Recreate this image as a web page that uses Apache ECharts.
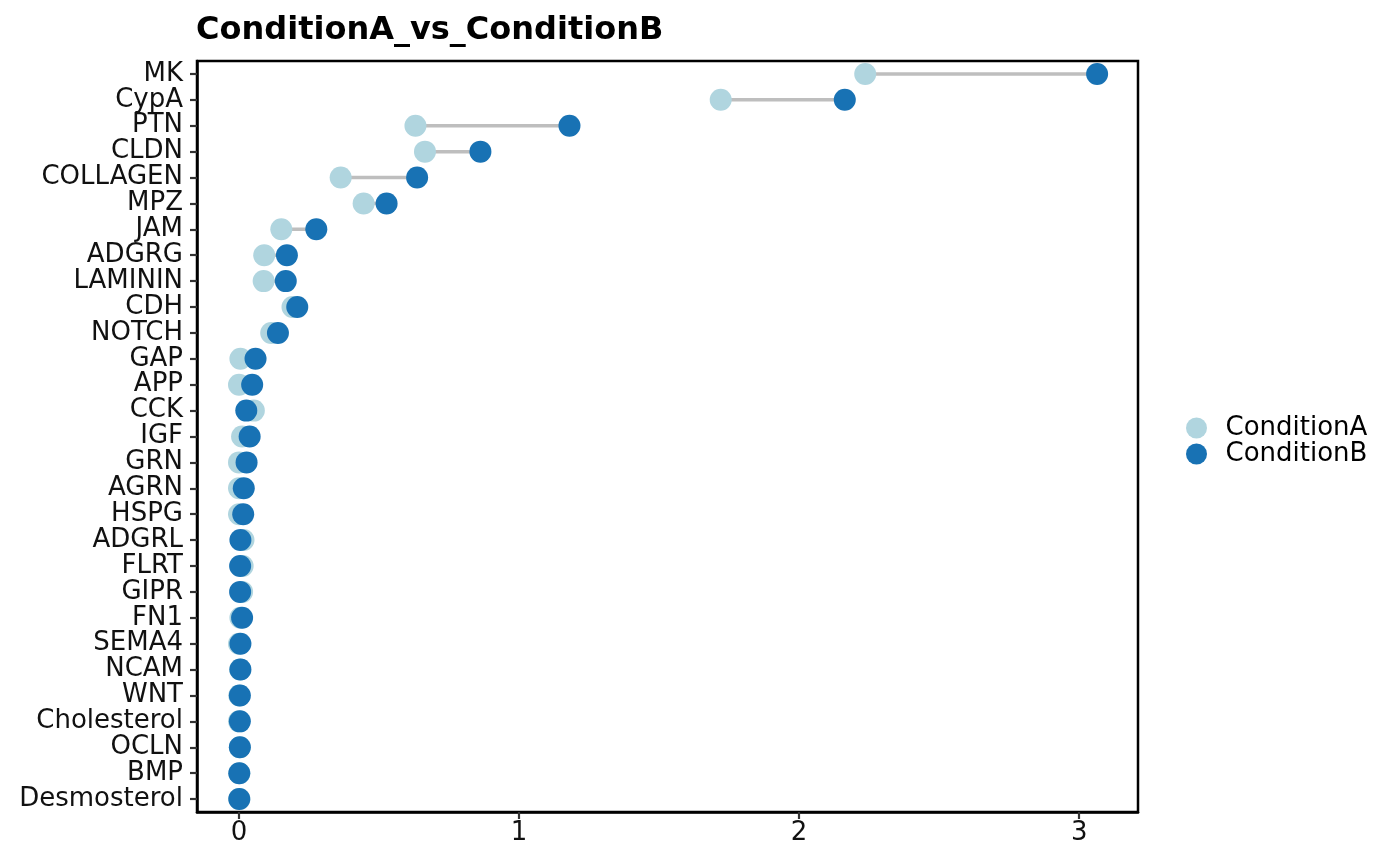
<!DOCTYPE html>
<html>
<head>
<meta charset="utf-8">
<script src="https://cdn.jsdelivr.net/npm/echarts@6/dist/echarts.min.js"></script>
<style>
html,body{margin:0;padding:0;background:#fff;}
#chart{width:1400px;height:866px;}
</style>
</head>
<body>
<div id="chart"></div>
<script>
const categories = ["MK","CypA","PTN","CLDN","COLLAGEN","MPZ","JAM","ADGRG","LAMININ","CDH","NOTCH","GAP","APP","CCK","IGF","GRN","AGRN","HSPG","ADGRL","FLRT","GIPR","FN1","SEMA4","NCAM","WNT","Cholesterol","OCLN","BMP","Desmosterol"];
const conditionA = [2.236,1.72,0.63,0.664,0.363,0.445,0.151,0.09,0.088,0.191,0.115,0.005,0.0,0.053,0.011,0.0,0.0,0.0,0.016,0.013,0.011,0.005,0.0,0.004,0.001,0.0,0.003,0.001,0.001];
const conditionB = [3.064,2.163,1.18,0.862,0.636,0.527,0.276,0.171,0.167,0.208,0.139,0.059,0.047,0.026,0.038,0.027,0.017,0.015,0.005,0.004,0.004,0.011,0.005,0.005,0.003,0.003,0.003,0.001,0.001];
const xTicks = [0,1,2,3];

const segData = categories.map((c,i)=>[conditionA[i], i, conditionB[i]]);
const aData = categories.map((c,i)=>[conditionA[i], i]);
const bData = categories.map((c,i)=>[conditionB[i], i]);

const FONT = "DejaVu Sans";
const chart = echarts.init(document.getElementById('chart'), null, {renderer:'canvas'});
chart.setOption({
  animation:false,
  backgroundColor:'#ffffff',
  textStyle:{fontFamily:FONT},
  title:{
    text:'ConditionA_vs_ConditionB',
    left:191, top:10,
    textStyle:{fontFamily:FONT, fontWeight:'bold', fontSize:32, color:'#000'}
  },
  legend:{
    orient:'vertical',
    left:1181, top:410,
    itemWidth:48, itemHeight:21, itemGap:0,
    icon:'circle',
    data:['ConditionA','ConditionB'],
    textStyle:{fontFamily:FONT, fontSize:26, lineHeight:25, color:'#000'}
  },
  grid:{left:197, right:262, top:61, bottom:54, show:true, borderColor:'#000', borderWidth:2.5, backgroundColor:'#fff'},
  xAxis:{
    type:'value', min:-0.15, max:3.21,
    splitLine:{show:false},
    axisLine:{show:true, onZero:false, lineStyle:{color:'#000', width:2.5}},
    axisTick:{show:true, length:7, lineStyle:{color:'#333', width:2.2}, customValues:xTicks},
    axisLabel:{fontFamily:FONT, fontSize:26, color:'#111', margin:8, customValues:xTicks, formatter:v=>String(v)}
  },
  yAxis:{
    type:'category', inverse:true, data:categories,
    boundaryGap:true,
    axisLine:{show:true, onZero:false, lineStyle:{color:'#000', width:2.5}},
    axisTick:{show:true, length:7, alignWithLabel:true, interval:0, lineStyle:{color:'#333', width:2.2}},
    axisLabel:{fontFamily:FONT, fontSize:26, color:'#111', margin:14, interval:0},
    splitLine:{show:false}
  },
  series:[
    {
      type:'custom', name:'segments', silent:true,
      encode:{x:[0,2], y:1},
      data:segData,
      renderItem:function(params, api){
        const p1 = api.coord([api.value(0), api.value(1)]);
        const p2 = api.coord([api.value(2), api.value(1)]);
        return {type:'line', shape:{x1:p1[0], y1:p1[1], x2:p2[0], y2:p2[1]}, style:{stroke:'#bebebe', lineWidth:3.5}};
      },
      z:1
    },
    {type:'scatter', name:'ConditionA', data:aData, symbol:'circle', symbolSize:22, itemStyle:{color:'#b0d5df', opacity:1}, z:2},
    {type:'scatter', name:'ConditionB', data:bData, symbol:'circle', symbolSize:22, itemStyle:{color:'#1872b4', opacity:1}, z:3}
  ]
});
</script>
</body>
</html>
